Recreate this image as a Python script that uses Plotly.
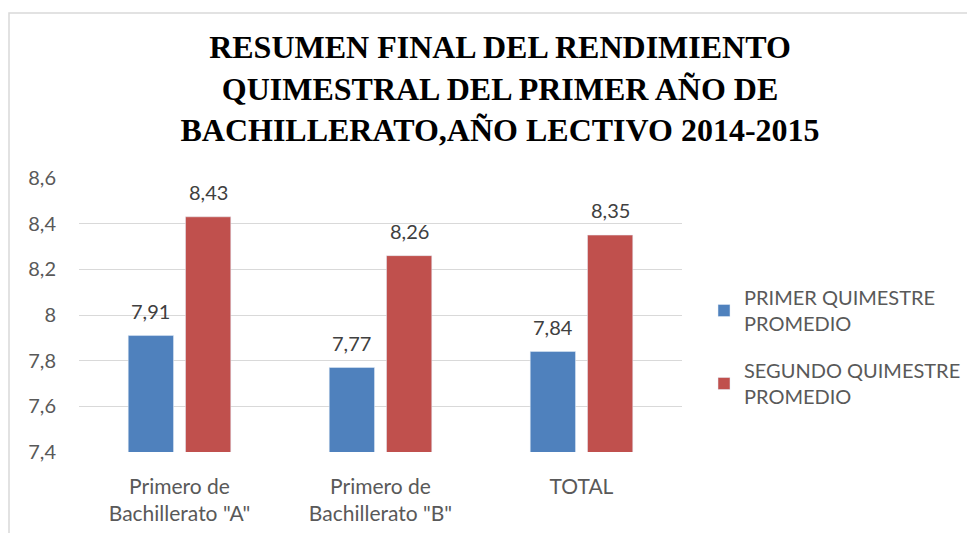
import plotly.graph_objects as go

categories = ['Primero de<br>Bachillerato "A"', 'Primero de<br>Bachillerato "B"', 'TOTAL']
primer = [7.91, 7.77, 7.84]
segundo = [8.43, 8.26, 8.35]
series_names = ["PRIMER QUIMESTRE<br>PROMEDIO", "SEGUNDO QUIMESTRE<br>PROMEDIO"]
y_ticks = [7.4, 7.6, 7.8, 8.0, 8.2, 8.4, 8.6]

# page body has an 8px margin, so figure coords = screen coords - 8
W, H = 975, 533
L, R, T, B = 71, 301, 170, 89
pw, ph = W - L - R, H - T - B
BARGAP, GROUPGAP = 0.43, 0.21
slot = pw / len(categories) * (1 - BARGAP) / 2

colors = ["#4F81BD", "#C0504D"]
fig = go.Figure()
for i, (name, vals) in enumerate(zip(series_names, [primer, segundo])):
    fig.add_trace(go.Bar(
        x=categories, y=vals, name=name, marker_color=colors[i],
        legendgroup=f"g{i}",
    ))
    for c, v in zip(categories, vals):
        fig.add_annotation(
            x=c, y=v, xref="x", yref="y", text=f"{v:.2f}".replace(".", ","),
            showarrow=False, xshift=(i - 0.5) * slot, yshift=25, yanchor="middle",
            font=dict(family="Lato", size=20, color="#404040"),
        )

fig.update_layout(
    width=W, height=H,
    margin=dict(l=L, r=R, t=T, b=B),
    paper_bgcolor="white", plot_bgcolor="white",
    separators=",.",
    barmode="group", bargap=BARGAP, bargroupgap=GROUPGAP,
    title=dict(
        text="RESUMEN FINAL DEL RENDIMIENTO<br>QUIMESTRAL DEL PRIMER AÑO DE<br>BACHILLERATO,AÑO LECTIVO 2014-2015",
        font=dict(family="Liberation Serif", size=32, color="black", weight="bold"),
        x=492 / W, xanchor="center", xref="container",
        y=1 - 50 / H, yanchor="top", yref="container",
    ),
    legend=dict(
        x=(696 - L) / pw, y=(444 - 270) / ph, xanchor="left", yanchor="top",
        font=dict(family="Lato", size=20, color="#595959"),
        tracegroupgap=18, bgcolor="rgba(0,0,0,0)",
    ),
    xaxis=dict(
        showgrid=False, showline=False, ticks="",
        tickfont=dict(family="Lato", size=21, color="#595959"),
        ticklabelstandoff=20,
    ),
    yaxis=dict(
        range=[7.4, 8.6], tickvals=y_ticks, showgrid=True, gridcolor="#D9D9D9", gridwidth=1,
        zeroline=False, showline=False, ticks="",
        tickfont=dict(family="Lato", size=20, color="#595959"),
        ticklabelstandoff=22,
    ),
    showlegend=True,
)

fig.add_shape(
    type="rect", xref="paper", yref="paper", layer="below",
    x0=(1 - L) / pw, x1=(W + 20 - L) / pw, y0=-(H - 444 + 20) / ph, y1=(444 - 5) / ph,
    line=dict(color="#D9D9D9", width=1.5), fillcolor="rgba(0,0,0,0)",
)

fig.write_html("out.html")
